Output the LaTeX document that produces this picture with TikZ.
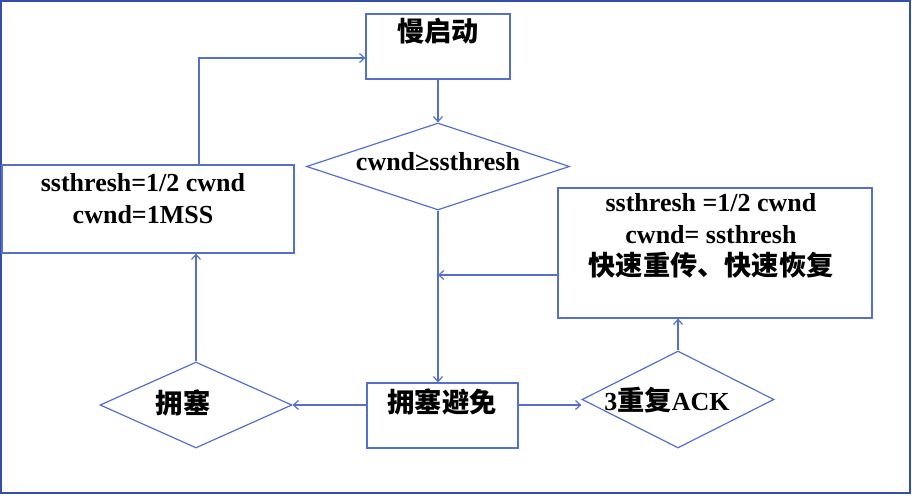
\documentclass[tikz,border=0pt]{standalone}
\usepackage{fontspec}
\setmainfont{Liberation Serif}
\newfontfamily\cjk{Noto Sans CJK SC}
\usetikzlibrary{shapes.geometric,arrows.meta}
\newcommand{\zh}[1]{{\cjk\bfseries\fontsize{13.6}{16}\selectfont #1}}
\definecolor{flowblue}{RGB}{84,112,204}
\definecolor{frameblue}{RGB}{52,78,172}
\begin{document}
\begin{tikzpicture}[x=0.5pt,y=-0.5pt,
  procbox/.style={draw=flowblue, line width=0.6pt, rectangle, inner sep=0pt},
  testbox/.style={draw=flowblue, line width=0.6pt, diamond, inner sep=0pt},
  lbl/.style={font=\fontsize{13}{16}\selectfont\bfseries, align=center, inner sep=0pt},
  flow/.style={draw=flowblue, line width=0.6pt, -{Straight Barb[length=2.5pt,width=4.5pt]}}]
\useasboundingbox (0,0) rectangle (912,496);
% frame round the whole slide
\draw[frameblue, line width=1pt] (1,1) rectangle (910,493);

% the boxes
\node[procbox, minimum width=72pt, minimum height=32.5pt] (slow) at (438,46.5) {};
\node[lbl] (slowtxt) at (438,31) {\zh{慢启动}};
\node[testbox, minimum width=131.5pt, minimum height=43.5pt] (cmp) at (438,166.5) {};
\node[lbl] (cmptxt) at (438,162) {cwnd≥ssthresh};
\node[procbox, minimum width=146pt, minimum height=44pt] (reset) at (148,209) {};
\node[lbl] (resettxt) at (143,199) {ssthresh=1/2 cwnd\\cwnd=1MSS};
\node[procbox, minimum width=157pt, minimum height=65pt] (fast) at (715,253) {};
\node[lbl] (fasttxt) at (711,236) {ssthresh =1/2 cwnd\\cwnd= ssthresh\\\zh{快速重传、快速恢复}};
\node[procbox, minimum width=75.5pt, minimum height=32.5pt] (avoid) at (442.5,415.5) {};
\node[lbl] (avoidtxt) at (442,402) {\zh{拥塞避免}};
\node[testbox, minimum width=96pt, minimum height=43pt] (jam) at (196,405) {};
\node[lbl] (jamtxt) at (183,403) {\zh{拥塞}};
\node[testbox, minimum width=96pt, minimum height=48.5pt] (ack) at (678,399.5) {};
\node[lbl] (acktxt) at (667,400) {3\zh{重复}ACK};

% bends of the connectors
\coordinate (join) at (438,275);
\coordinate (turn) at (199,58);

% connectors
\draw[flow] (slow.south -| cmp.north) -- (cmp.north);
\draw[flow] (cmp.south) -- (cmp.south |- avoid.north);
\draw[flow] (fast.west |- join) -- (join);
\draw[flow] (avoid.west |- jam.east) -- (jam.east);
\draw[flow] (avoid.east |- jam.east) -- (ack.west |- jam.east);
\draw[flow] (jam.north) -- (jam.north |- reset.south);
\draw[flow] (turn |- reset.north) -- (turn) -- (turn -| slow.west);
\draw[flow] (ack.north) -- (ack.north |- fast.south);
\end{tikzpicture}
\end{document}
